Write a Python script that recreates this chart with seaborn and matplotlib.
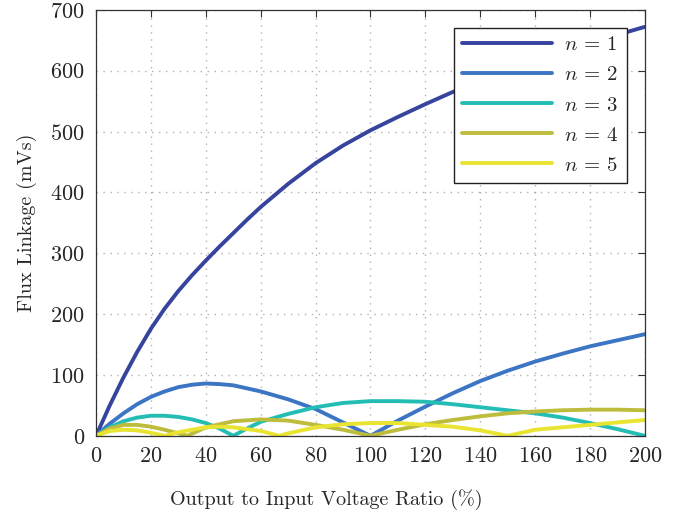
import matplotlib
matplotlib.use("Agg")
import matplotlib.pyplot as plt
import pandas as pd
import seaborn as sns

# values (flux linkage in mVs vs output/input voltage ratio in %)
x_n1 = [0, 5, 10, 15, 20, 25, 30, 35, 40, 45, 50, 55, 60, 70, 80, 90, 100,
        110, 120, 130, 140, 150, 160, 170, 180, 190, 200]
y_n1 = [0, 50, 96, 138, 176, 209, 238, 264, 288, 311, 333, 355, 376, 414, 448, 477, 502,
        524, 545, 565, 584, 601, 617, 632, 646, 659, 672]

x_n2 = [0, 5, 10, 15, 20, 25, 30, 35, 40, 45, 50, 60, 70, 80, 90, 100,
        110, 120, 130, 140, 150, 160, 170, 180, 190, 200]
y_n2 = [0, 20, 37, 52, 64, 73, 80, 84, 86, 85, 83, 73, 60, 44, 22, 0,
        25, 48, 70, 90, 107, 122, 135, 147, 157, 167]

x_n3 = [0, 5, 10, 15, 20, 25, 30, 35, 40, 45, 50, 55, 60, 70, 80, 90, 100,
        110, 120, 130, 140, 150, 160, 170, 180, 190, 200]
y_n3 = [0, 14, 24, 30, 33, 33, 31, 27, 21, 12, 0, 12, 23, 36, 47, 54, 57,
        57, 56, 52, 47, 42, 37, 30, 21, 11, 0]

x_n4 = [0, 5, 10, 15, 20, 25, 30, 33.3, 40, 50, 60, 70, 80, 90, 100,
        110, 120, 130, 140, 150, 160, 170, 180, 190, 200]
y_n4 = [0, 12, 18, 18, 15, 10, 4, 0, 14, 24, 27, 25, 18, 10, 0,
        10, 19, 26, 32, 37, 40, 42, 43, 43, 42]

x_n5 = [0, 5, 10, 15, 20, 25, 30, 40, 45, 50, 60, 66.7, 70, 80, 90, 100,
        110, 120, 130, 140, 150, 160, 170, 180, 190, 200]
y_n5 = [0, 8, 10, 9, 5, 0, 6, 14, 15, 14, 8, 0, 4, 14, 19, 21,
        21, 18, 15, 9, 0, 10, 14, 18, 22, 26]

labels = ["$n$ = 1", "$n$ = 2", "$n$ = 3", "$n$ = 4", "$n$ = 5"]
colors = ["#36449e", "#3b75c3", "#24bdb4", "#bdbc3c", "#e9e331"]

frames = []
for lab, xs, ys in zip(labels, [x_n1, x_n2, x_n3, x_n4, x_n5],
                       [y_n1, y_n2, y_n3, y_n4, y_n5]):
    frames.append(pd.DataFrame({"ratio": xs, "flux": ys, "n": lab}))
df = pd.concat(frames, ignore_index=True)

sns.set_style("white")
plt.rcParams["font.family"] = "serif"
plt.rcParams["font.serif"] = ["cmr10", "DejaVu Serif"]
plt.rcParams["mathtext.fontset"] = "cm"
plt.rcParams["axes.formatter.use_mathtext"] = True

fig = plt.figure(figsize=(6.86, 5.17), dpi=100)
ax = fig.add_axes([0.14, 0.157, 0.80, 0.824])

sns.lineplot(data=df, x="ratio", y="flux", hue="n", palette=colors,
             estimator=None, sort=False, linewidth=2.8, ax=ax)

ax.set_xlim(0, 200)
ax.set_ylim(0, 700)
ax.set_xticks(range(0, 201, 20))
ax.set_yticks(range(0, 701, 100))
ax.grid(True, linestyle=(0, (1, 4)), color="#b0b0b0", linewidth=1.0)
for sp in ax.spines.values():
    sp.set_color("#333333")
    sp.set_linewidth(0.9)
ax.tick_params(direction="in", top=True, right=True, length=5,
               labelsize=16, color="#333333", pad=8)

ax.set_xlabel("Output to Input Voltage Ratio (%)", fontsize=14.5)
ax.xaxis.set_label_coords(0.42, -0.125)
ax.set_ylabel("Flux Linkage (mVs)", fontsize=14.5, labelpad=10)

leg = ax.legend(loc="upper right", fontsize=15, handlelength=4.3,
                fancybox=False, framealpha=1, edgecolor="#222222",
                borderaxespad=0.85, labelspacing=0.55, handletextpad=0.6)
leg.get_frame().set_linewidth(1.0)

fig.savefig("out.png", dpi=100)
